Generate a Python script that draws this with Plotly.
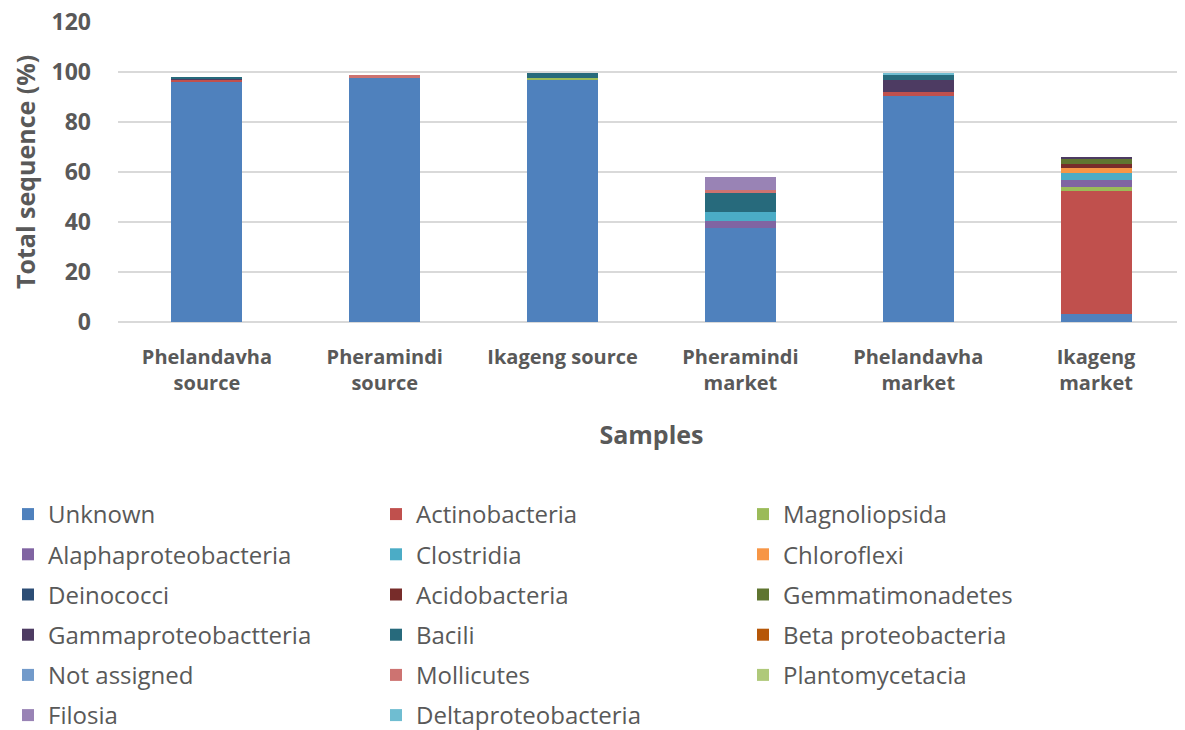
import plotly.graph_objects as go

samples = ["Phelandavha<br>source", "Pheramindi<br>source", "Ikageng source",
           "Pheramindi<br>market", "Phelandavha<br>market", "Ikageng<br>market"]

taxa = ["Unknown", "Actinobacteria", "Magnoliopsida",
        "Alaphaproteobacteria", "Clostridia", "Chloroflexi",
        "Deinococci", "Acidobacteria", "Gemmatimonadetes",
        "Gammaproteobactteria", "Bacili", "Beta proteobacteria",
        "Not assigned", "Mollicutes", "Plantomycetacia",
        "Filosia", "Deltaproteobacteria"]

colors = ["#4F81BD", "#C0504D", "#9BBB59",
          "#8064A2", "#4BACC6", "#F79646",
          "#2C4D75", "#772C2A", "#5F7530",
          "#4D3B62", "#276A7C", "#B65708",
          "#729ACA", "#CD7371", "#AFC97A",
          "#9983B5", "#6FBDD1"]

# values (%) per sample
unknown        = [96.0, 97.6, 97.0, 37.5, 90.4, 3.2]
actinobacteria = [1.0, 0, 0, 0, 1.7, 49.2]
magnoliopsida  = [0, 0, 0.8, 0, 0, 1.7]
alapha         = [0, 0, 0, 2.9, 0, 2.7]
clostridia     = [0, 0, 0, 3.7, 0, 2.7]
chloroflexi    = [0, 0, 0, 0, 0, 2.0]
deinococci     = [0, 0, 0, 0, 0, 0]
acidobacteria  = [0, 0, 0, 0, 0, 1.7]
gemmatimonad   = [0, 0, 0, 0, 0, 2.0]
gamma          = [0.3, 0, 0, 0, 4.7, 0.9]
bacili         = [0.5, 0, 1.8, 7.4, 2.0, 0]
beta           = [0, 0, 0, 0, 0, 0]
not_assigned   = [0, 0, 0, 0, 0, 0]
mollicutes     = [0, 1.2, 0, 1.5, 0, 0]
plantomyc      = [0, 0, 0, 0, 0, 0]
filosia        = [0, 0, 0, 5.1, 0, 0]
delta          = [0, 0, 0, 0, 0.7, 0]

values = [unknown, actinobacteria, magnoliopsida, alapha, clostridia, chloroflexi,
          deinococci, acidobacteria, gemmatimonad, gamma, bacili, beta,
          not_assigned, mollicutes, plantomyc, filosia, delta]

FONT = "Open Sans, sans-serif"
TXT = "#595959"
W, H = 1177, 722   # page adds an 8px body margin
L, T, B = 110, 14, 408

fig = go.Figure()
legend_keys = ["legend", "legend2", "legend3"]
for i, (name, vals, col) in enumerate(zip(taxa, values, colors)):
    fig.add_trace(go.Bar(
        x=samples, y=vals, name=name,
        marker_color=col, marker_line_width=0,
        legend=legend_keys[i % 3], legendgroup=name
    ))

# three legend columns, entries read row by row
col_x = [0, 368, 735]
legends = {}
for c, key in enumerate(legend_keys):
    legends[key] = dict(
        xref="container", yref="container",
        x=col_x[c] / W, y=1 - 484 / H,
        xanchor="left", yanchor="top",
        traceorder="grouped", tracegroupgap=6,
        font=dict(family=FONT, size=24, color=TXT),
        bgcolor="rgba(0,0,0,0)"
    )

# y title as a rotated annotation (the axis title misplaces itself here)
fig.add_annotation(
    text="<b>Total sequence (%)</b>", textangle=-90,
    xref="paper", yref="paper", x=(17 - L) / (W - L), y=0.5,
    xanchor="center", yanchor="middle", showarrow=False,
    font=dict(family=FONT, size=25, color=TXT)
)

fig.update_layout(
    barmode="stack",
    bargap=0.6,
    width=W, height=H,
    margin=dict(l=L, r=0, t=T, b=B, autoexpand=False),
    plot_bgcolor="white", paper_bgcolor="white",
    font=dict(family=FONT, color=TXT),
    xaxis=dict(
        title=dict(text="<b>Samples</b>", font=dict(size=25, color=TXT), standoff=31),
        tickfont=dict(size=20, color=TXT, weight="bold"),
        showline=False, ticks="", ticklabelstandoff=21, automargin=False
    ),
    yaxis=dict(
        range=[0, 120], dtick=20,
        tickfont=dict(size=23, color=TXT, weight="bold"),
        ticklabeloverflow="allow",
        showgrid=True, gridcolor="#d9d9d9", gridwidth=1.5,
        zeroline=True, zerolinecolor="#d9d9d9", zerolinewidth=1.5,
        ticks="", ticklabelstandoff=26, automargin=False
    ),
    **legends
)

fig.write_html("out.html")
